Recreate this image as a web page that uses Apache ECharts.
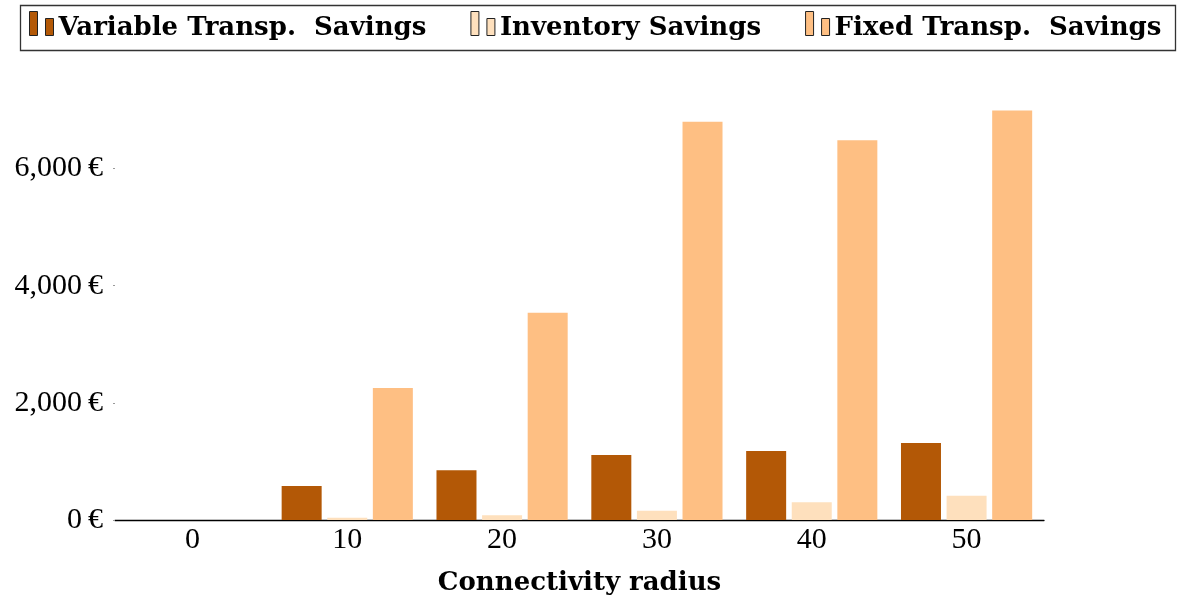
<!DOCTYPE html>
<html>
<head>
<meta charset="utf-8">
<script src="https://cdn.jsdelivr.net/npm/echarts@6/dist/echarts.min.js"></script>
<style>
  html, body { margin: 0; padding: 0; background: #fff; }
  #chart { width: 1178px; height: 597px; }
</style>
</head>
<body>
<div id="chart"></div>
<script>
// Savings per connectivity radius
const radii = ['0', '10', '20', '30', '40', '50'];
const variableTransp = [0, 580, 850, 1110, 1180, 1315];
const inventory = [0, 40, 80, 160, 305, 415];
const fixedTransp = [0, 2255, 3540, 6800, 6485, 6990];
const yTicks = [0, 2000, 4000, 6000];

const seriesNames = ['Variable Transp.  Savings', 'Inventory Savings', 'Fixed Transp.  Savings'];
const seriesColors = ['#b35806', '#fee0bd', '#febf83'];

// Two-bar glyph used as the legend marker
const barIcon = 'path://M0,0H8V24H0Z M16,7H24V24H16Z';

const chart = echarts.init(document.getElementById('chart'), null, { renderer: 'canvas' });

const regularFont = '"Liberation Serif", serif';
const boldFont = '"DejaVu Serif", serif';

function euro(v) {
  return v.toLocaleString('en-US') + '\u2009€';
}

const valueSets = [variableTransp, inventory, fixedTransp];

chart.setOption({
  animation: false,
  backgroundColor: '#fff',
  graphic: [{
    type: 'rect',
    shape: { x: 20.5, y: 5.5, width: 1155, height: 45 },
    style: { fill: 'none', stroke: '#333', lineWidth: 1.3 },
    z: 0
  }],
  legend: {
    left: 24,
    top: 6,
    itemWidth: 24,
    itemHeight: 24,
    itemGap: 44,
    icon: barIcon,
    data: seriesNames,
    itemStyle: { borderColor: '#222', borderWidth: 1 },
    formatter: name => '{t|' + name + '}',
    textStyle: {
      fontFamily: boldFont, fontWeight: 'bold', fontSize: 26, color: '#000',
      rich: {
        t: { fontFamily: boldFont, fontWeight: 'bold', fontSize: 26, color: '#000', padding: [9, 0, 0, 0] }
      }
    }
  },
  grid: { left: 115, right: 134, top: 110, bottom: 77, containLabel: false, outerBoundsMode: 'none' },
  xAxis: {
    type: 'category',
    data: radii,
    boundaryGap: true,
    name: 'Connectivity radius',
    nameLocation: 'middle',
    nameGap: 50,
    nameMoveOverlap: false,
    nameTextStyle: { fontFamily: boldFont, fontWeight: 'bold', fontSize: 26, color: '#000' },
    axisLine: { lineStyle: { color: '#000', width: 1.3 } },
    axisTick: { show: false },
    axisLabel: { fontFamily: regularFont, fontSize: 30, color: '#000', margin: 5 },
    splitLine: { show: false }
  },
  yAxis: {
    type: 'value',
    min: 0,
    max: 7000,
    interval: 1000,
    axisLine: { show: false },
    axisTick: { show: true, length: 2, customValues: yTicks, lineStyle: { color: '#999', width: 1 } },
    axisLabel: {
      customValues: yTicks,
      fontFamily: regularFont, fontSize: 30, color: '#000', margin: 12,
      formatter: euro
    },
    splitLine: { show: false }
  },
  series: seriesNames.map((name, i) => ({
    name: name,
    type: 'bar',
    data: valueSets[i],
    barWidth: 40,
    barGap: '14%',
    itemStyle: { color: seriesColors[i] }
  }))
});
</script>
</body>
</html>
